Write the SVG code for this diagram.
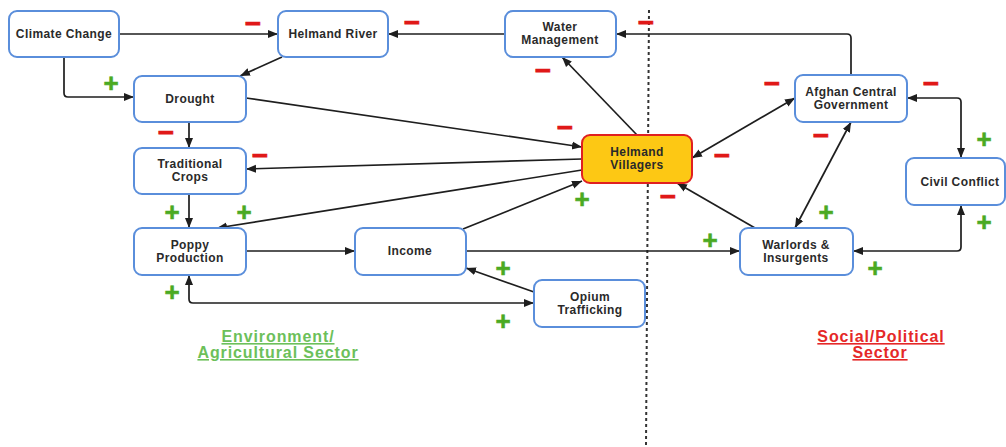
<svg xmlns="http://www.w3.org/2000/svg" width="1006" height="447" viewBox="0 0 1006 447">
<style>
.n rect{fill:#fff;stroke:#5a8edb;stroke-width:2}
.n text{font-family:"Liberation Sans",Arial,sans-serif;font-weight:bold;font-size:12px;letter-spacing:0.4px;fill:#2a2a2a;text-anchor:middle}
.c path{fill:none;stroke:#1e1e1e;stroke-width:1.7}
.m{font-family:"Liberation Sans",Arial,sans-serif;font-weight:bold;font-size:28px;fill:#e01818;stroke:#e01818;stroke-width:0.8;text-anchor:middle}
.p{font-family:"Liberation Sans",Arial,sans-serif;font-weight:bold;font-size:26px;fill:#4aaa22;stroke:#4aaa22;stroke-width:0.6;text-anchor:middle}
.s{font-family:"Liberation Sans",Arial,sans-serif;font-weight:bold;font-size:16px;letter-spacing:0.9px;text-anchor:middle;text-decoration:underline}
</style>
<defs>
<marker id="ah" viewBox="0 0 10 10" refX="10" refY="5" markerWidth="10" markerHeight="10" markerUnits="userSpaceOnUse" orient="auto-start-reverse">
<path d="M0,1 L10,5 L0,9 z" fill="#1e1e1e"/>
</marker>
</defs>
<rect width="1006" height="447" fill="#fff"/>
<path d="M649,10 L646,447" stroke="#333" stroke-width="2" stroke-dasharray="3,3" fill="none"/>
<g class="c">
<path d="M119,34 H278" marker-end="url(#ah)"/>
<path d="M64,57 V93 Q64,97 68,97 H134" marker-end="url(#ah)"/>
<path d="M282,57 L240,76" marker-end="url(#ah)"/>
<path d="M505,34 H388" marker-end="url(#ah)"/>
<path d="M851,75 V38 Q851,34 847,34 H616" marker-end="url(#ah)"/>
<path d="M637,135 L562,57" marker-end="url(#ah)"/>
<path d="M246,98 L582,147" marker-end="url(#ah)"/>
<path d="M189,122 V148" marker-end="url(#ah)"/>
<path d="M582,159 L246,169" marker-end="url(#ah)"/>
<path d="M582,170 L217,228" marker-end="url(#ah)"/>
<path d="M189,194 V228" marker-end="url(#ah)"/>
<path d="M246,251 H355" marker-end="url(#ah)"/>
<path d="M463,229 L582,181" marker-end="url(#ah)"/>
<path d="M466,251 H740" marker-end="url(#ah)"/>
<path d="M534,292 L466,268" marker-end="url(#ah)"/>
<path d="M534,303 H193 Q189,303 189,299 V275" marker-start="url(#ah)" marker-end="url(#ah)"/>
<path d="M692,158 L795,98" marker-start="url(#ah)" marker-end="url(#ah)"/>
<path d="M755,228 L677,183" marker-end="url(#ah)"/>
<path d="M795,228 L851,122" marker-start="url(#ah)" marker-end="url(#ah)"/>
<path d="M907,98 H957 Q961,98 961,102 V158" marker-start="url(#ah)" marker-end="url(#ah)"/>
<path d="M961,205 V247 Q961,251 957,251 H853" marker-start="url(#ah)" marker-end="url(#ah)"/>
</g>
<g id="climate" class="n"><rect x="9" y="11" width="110" height="46" rx="8"/><text x="64" y="38">Climate Change</text></g>
<g id="river" class="n"><rect x="278" y="11" width="110" height="46" rx="8"/><text x="333" y="38">Helmand River</text></g>
<g id="water" class="n"><rect x="505" y="11" width="111" height="46" rx="8"/><text x="560" y="31">Water</text><text x="560" y="44">Management</text></g>
<g id="drought" class="n"><rect x="134" y="76" width="112" height="46" rx="8"/><text x="190" y="103">Drought</text></g>
<g id="trad" class="n"><rect x="134" y="148" width="112" height="46" rx="8"/><text x="190" y="168">Traditional</text><text x="190" y="181">Crops</text></g>
<g id="poppy" class="n"><rect x="134" y="228" width="112" height="47" rx="8"/><text x="190" y="249">Poppy</text><text x="190" y="262">Production</text></g>
<g id="income" class="n"><rect x="355" y="228" width="111" height="47" rx="8"/><text x="410" y="255">Income</text></g>
<g id="opium" class="n"><rect x="534" y="280" width="111" height="47" rx="8"/><text x="590" y="301">Opium</text><text x="590" y="314">Trafficking</text></g>
<g id="villagers" class="n"><rect x="582" y="135" width="110" height="48" rx="8" style="fill:#fdc814;stroke:#e02020"/><text x="637" y="156">Helmand</text><text x="637" y="169">Villagers</text></g>
<g id="afghan" class="n"><rect x="795" y="75" width="112" height="47" rx="8"/><text x="851" y="96">Afghan Central</text><text x="851" y="109">Government</text></g>
<g id="civil" class="n"><rect x="906" y="158" width="99" height="47" rx="8"/><text x="960" y="186">Civil Conflict</text></g>
<g id="warlords" class="n"><rect x="740" y="228" width="113" height="47" rx="8"/><text x="796" y="249">Warlords &amp;</text><text x="796" y="262">Insurgents</text></g>
<g id="signs">
<text class="m" x="253" y="33">−</text>
<text class="m" x="412" y="32">−</text>
<text class="m" x="646" y="32">−</text>
<text class="m" x="166" y="142">−</text>
<text class="m" x="260" y="165">−</text>
<text class="m" x="565" y="137">−</text>
<text class="m" x="543" y="80">−</text>
<text class="m" x="668" y="206">−</text>
<text class="m" x="722" y="165">−</text>
<text class="m" x="772" y="93">−</text>
<text class="m" x="821" y="145">−</text>
<text class="m" x="931" y="93">−</text>
<text class="p" x="111" y="92">+</text>
<text class="p" x="582" y="208">+</text>
<text class="p" x="172" y="221">+</text>
<text class="p" x="244" y="221">+</text>
<text class="p" x="172" y="301">+</text>
<text class="p" x="503" y="277">+</text>
<text class="p" x="503" y="330">+</text>
<text class="p" x="710" y="249">+</text>
<text class="p" x="826" y="221">+</text>
<text class="p" x="984" y="148">+</text>
<text class="p" x="984" y="231">+</text>
<text class="p" x="875" y="277">+</text>
</g>
<g id="sectors">
<text class="s" x="278" y="342" fill="#6cc05a">Environment/</text>
<text class="s" x="278" y="358" fill="#6cc05a">Agricultural Sector</text>
<text class="s" x="881" y="342" fill="#e52828">Social/Political </text>
<text class="s" x="880" y="358" fill="#e52828">Sector</text>
</g>
</svg>
